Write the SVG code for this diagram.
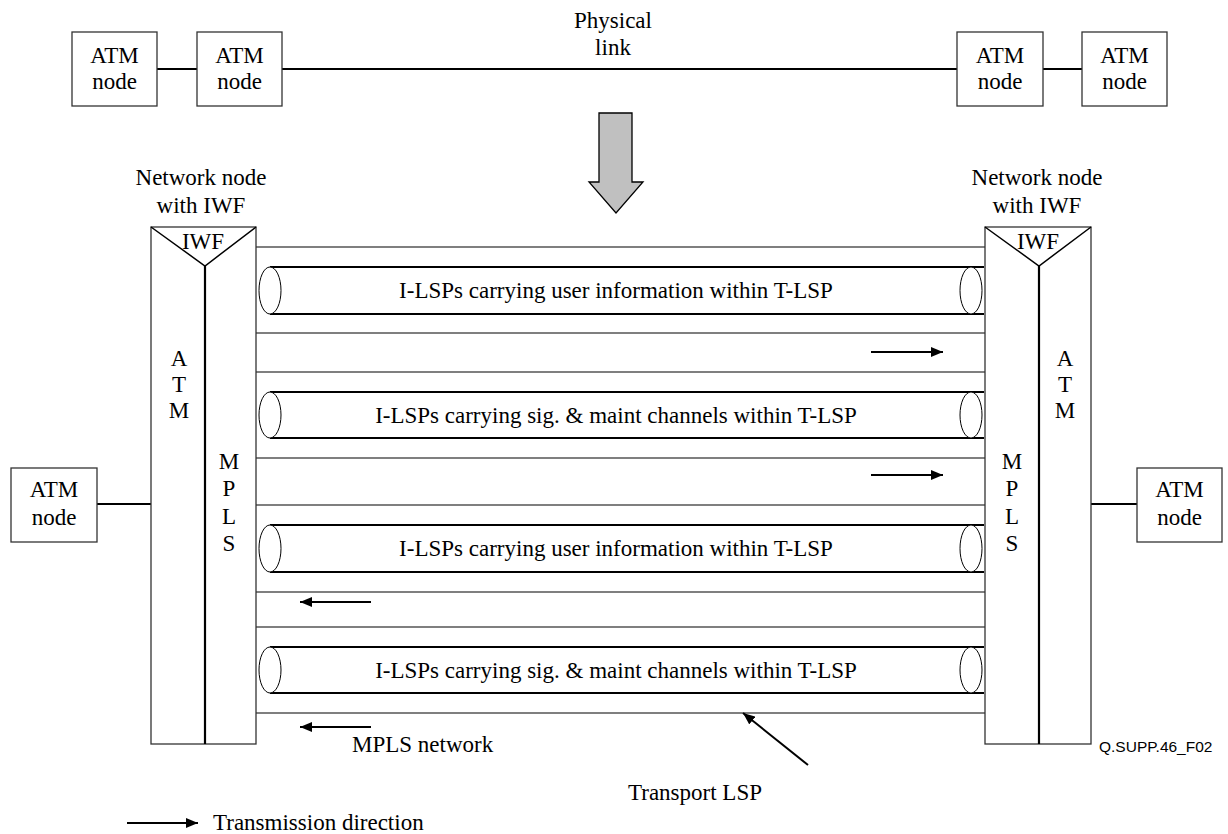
<svg xmlns="http://www.w3.org/2000/svg" width="1228" height="834" viewBox="0 0 1228 834">
  <defs>
    <style>
      .box { fill: #fff; stroke: #333; stroke-width: 1.3; }
      text { font-family: 'Liberation Serif', 'DejaVu Serif', serif; font-size: 23px; fill: #000; }
      .t { text-anchor: middle; }
      .id { font-family: 'Liberation Sans', Arial, sans-serif; font-size: 15.5px; }
      .link { stroke: #000; stroke-width: 2; fill: none; }
      .tlsp { stroke: #555; stroke-width: 1.3; fill: none; }
      .pipe { stroke: #000; stroke-width: 2.2; fill: none; }
      .cap { fill: #fff; stroke: #000; stroke-width: 1; }
      .dir { stroke: #000; stroke-width: 2; fill: none; marker-end: url(#head); }
    </style>
    <marker id="head" viewBox="0 0 12 10" refX="12" refY="5" markerWidth="12" markerHeight="10" markerUnits="userSpaceOnUse" orient="auto">
      <path d="M0,0 L12,5 L0,10 Z" fill="#000"/>
    </marker>
  </defs>

  <!-- upper ATM chain -->
  <g id="connectors-top">
    <line class="link" x1="157" y1="69" x2="197" y2="69"/>
    <line class="link" x1="282" y1="69" x2="957" y2="69"/>
    <line class="link" x1="1043" y1="69" x2="1082" y2="69"/>
  </g>
  <text class="t" x="613" y="28">Physical</text>
  <text class="t" x="613" y="55">link</text>
  <g id="atm-top-1">
    <rect class="box" x="72" y="32" width="85" height="74"/>
    <text class="t" x="114.5" y="63">ATM</text>
    <text class="t" x="114.5" y="89">node</text>
  </g>
  <g id="atm-top-2">
    <rect class="box" x="197" y="32" width="85" height="74"/>
    <text class="t" x="239.5" y="63">ATM</text>
    <text class="t" x="239.5" y="89">node</text>
  </g>
  <g id="atm-top-3">
    <rect class="box" x="957" y="32" width="86" height="74"/>
    <text class="t" x="1000" y="63">ATM</text>
    <text class="t" x="1000" y="89">node</text>
  </g>
  <g id="atm-top-4">
    <rect class="box" x="1082" y="32" width="85" height="74"/>
    <text class="t" x="1124.5" y="63">ATM</text>
    <text class="t" x="1124.5" y="89">node</text>
  </g>

  <!-- transition arrow -->
  <polygon points="599,113 632,113 632,182 643,182 616,213 589,182 599,182" fill="#c0c0c0" stroke="#000" stroke-width="1.3"/>

  <!-- MPLS network: transport LSPs with inner LSP pipes -->
  <g id="connectors">
    <line class="link" x1="97" y1="504" x2="151" y2="504"/>
    <line class="link" x1="1091" y1="504" x2="1137" y2="504"/>

    <line class="tlsp" x1="256" y1="247" x2="985" y2="247"/>
    <line class="tlsp" x1="256" y1="333" x2="985" y2="333"/>
    <line class="tlsp" x1="256" y1="372" x2="985" y2="372"/>
    <line class="tlsp" x1="256" y1="458" x2="985" y2="458"/>
    <line class="tlsp" x1="256" y1="505" x2="985" y2="505"/>
    <line class="tlsp" x1="256" y1="592" x2="985" y2="592"/>
    <line class="tlsp" x1="256" y1="627" x2="985" y2="627"/>
    <line class="tlsp" x1="256" y1="713" x2="985" y2="713"/>

    <line class="dir" x1="871" y1="352" x2="943" y2="352"/>
    <line class="dir" x1="871" y1="475" x2="943" y2="475"/>
    <line class="dir" x1="371" y1="602" x2="300" y2="602"/>
    <line class="dir" x1="371" y1="727" x2="300" y2="727"/>

    <line class="dir" x1="808" y1="765" x2="743" y2="713"/>
  </g>

  <g id="pipe-1">
    <line class="pipe" x1="270" y1="267" x2="984" y2="267"/>
    <line class="pipe" x1="270" y1="314" x2="984" y2="314"/>
    <ellipse class="cap" cx="270" cy="290.5" rx="11" ry="23.5"/>
    <ellipse class="cap" cx="971" cy="290.5" rx="11" ry="23.5"/>
    <text class="t" x="616" y="298">I-LSPs carrying user information within T-LSP</text>
  </g>
  <g id="pipe-2">
    <line class="pipe" x1="270" y1="392" x2="984" y2="392"/>
    <line class="pipe" x1="270" y1="438" x2="984" y2="438"/>
    <ellipse class="cap" cx="270" cy="415" rx="11" ry="23"/>
    <ellipse class="cap" cx="971" cy="415" rx="11" ry="23"/>
    <text class="t" x="616" y="423">I-LSPs carrying sig. &amp; maint channels within T-LSP</text>
  </g>
  <g id="pipe-3">
    <line class="pipe" x1="270" y1="525" x2="984" y2="525"/>
    <line class="pipe" x1="270" y1="572" x2="984" y2="572"/>
    <ellipse class="cap" cx="270" cy="548.5" rx="11" ry="23.5"/>
    <ellipse class="cap" cx="971" cy="548.5" rx="11" ry="23.5"/>
    <text class="t" x="616" y="556">I-LSPs carrying user information within T-LSP</text>
  </g>
  <g id="pipe-4">
    <line class="pipe" x1="270" y1="647" x2="984" y2="647"/>
    <line class="pipe" x1="270" y1="693" x2="984" y2="693"/>
    <ellipse class="cap" cx="270" cy="670" rx="11" ry="23"/>
    <ellipse class="cap" cx="971" cy="670" rx="11" ry="23"/>
    <text class="t" x="616" y="678">I-LSPs carrying sig. &amp; maint channels within T-LSP</text>
  </g>

  <!-- interworking nodes -->
  <g id="iwf-left">
    <text class="t" x="201" y="185">Network node</text>
    <text class="t" x="201" y="213">with IWF</text>
    <rect class="box" x="151" y="227" width="105" height="517"/>
    <polyline points="151,227 205,266 256,227" fill="none" stroke="#000" stroke-width="1.5"/>
    <line x1="205" y1="266" x2="205" y2="744" stroke="#000" stroke-width="2.2"/>
    <text class="t" x="203" y="249">IWF</text>
    <text class="t" x="179" y="366">A</text>
    <text class="t" x="179" y="392">T</text>
    <text class="t" x="179" y="418">M</text>
    <text class="t" x="229" y="469">M</text>
    <text class="t" x="229" y="496">P</text>
    <text class="t" x="229" y="524">L</text>
    <text class="t" x="229" y="551">S</text>
  </g>
  <g id="iwf-right">
    <text class="t" x="1037" y="185">Network node</text>
    <text class="t" x="1037" y="213">with IWF</text>
    <rect class="box" x="985" y="227" width="106" height="517"/>
    <polyline points="985,227 1039,266 1091,227" fill="none" stroke="#000" stroke-width="1.5"/>
    <line x1="1039" y1="266" x2="1039" y2="744" stroke="#000" stroke-width="2.2"/>
    <text class="t" x="1038" y="249">IWF</text>
    <text class="t" x="1065" y="366">A</text>
    <text class="t" x="1065" y="392">T</text>
    <text class="t" x="1065" y="418">M</text>
    <text class="t" x="1012" y="469">M</text>
    <text class="t" x="1012" y="496">P</text>
    <text class="t" x="1012" y="524">L</text>
    <text class="t" x="1012" y="551">S</text>
  </g>

  <g id="atm-left">
    <rect class="box" x="11" y="468" width="86" height="74"/>
    <text class="t" x="54" y="497">ATM</text>
    <text class="t" x="54" y="525">node</text>
  </g>
  <g id="atm-right">
    <rect class="box" x="1137" y="468" width="85" height="74"/>
    <text class="t" x="1179.5" y="497">ATM</text>
    <text class="t" x="1179.5" y="525">node</text>
  </g>

  <!-- labels -->
  <text x="352" y="752">MPLS network</text>
  <text x="628" y="800">Transport LSP</text>
  <text class="id" x="1099" y="752">Q.SUPP.46_F02</text>

  <g id="legend">
    <line class="dir" x1="127" y1="823" x2="198" y2="823"/>
    <text x="213" y="830">Transmission direction</text>
  </g>
</svg>
